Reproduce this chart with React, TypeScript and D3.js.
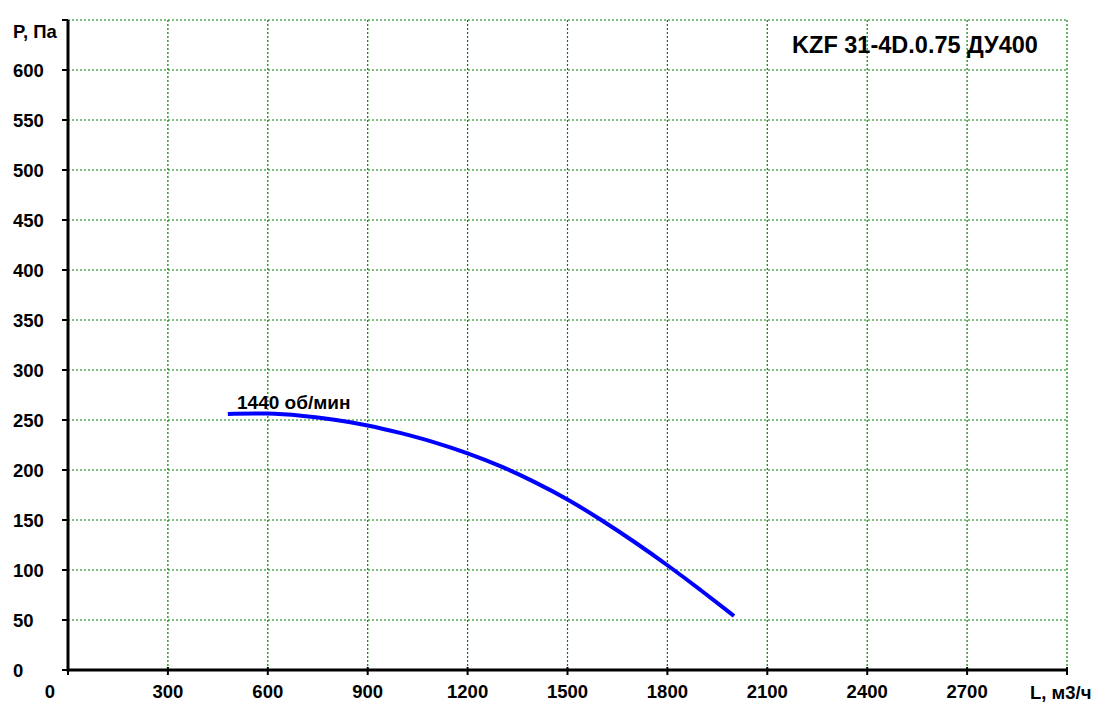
import React from "react";
import * as d3 from "d3";

const flowL = [480, 600, 700, 800, 900, 1000, 1100, 1200, 1300, 1400, 1500, 1600, 1700, 1800, 1900, 2000];
const pressureP = [256, 257, 254.5, 250.5, 245, 237, 228, 217, 204, 188.5, 171, 150.5, 128.5, 105, 80, 54];
const xTicks = [0, 300, 600, 900, 1200, 1500, 1800, 2100, 2400, 2700, 3000];
const yTicks = [0, 50, 100, 150, 200, 250, 300, 350, 400, 450, 500, 550, 600, 650];
const title = "KZF 31-4D.0.75 ДУ400";
const curveLabel = "1440 об/мин";
const xTitle = "L, м3/ч";
const yTitle = "P, Па";

export default function App() {
  const W = 1100, H = 717;
  const x = d3.scaleLinear().domain([0, 3000]).range([68, 1067]);
  const y = d3.scaleLinear().domain([0, 650]).range([670, 20]);
  const pts: [number, number][] = flowL.map((l, i) => [l, pressureP[i]]);
  const line = d3
    .line<[number, number]>()
    .x((d) => x(d[0]))
    .y((d) => y(d[1]))
    .curve(d3.curveBasis);
  const font = "'Liberation Sans', Arial, sans-serif";
  const fs = 18.5;
  return (
    <svg width={W} height={H} style={{ position: "absolute", left: 0, top: 0, background: "#fff" }} fontFamily={font}>
      <rect x={0} y={0} width={W} height={H} fill="#fff" />
      {xTicks.filter((t) => t > 0).map((t) => (
        <line key={"gx" + t} x1={x(t)} x2={x(t)} y1={y(0)} y2={y(650)} stroke="#008000" strokeWidth={1.2} strokeDasharray="2,2" />
      ))}
      {yTicks.filter((t) => t > 0).map((t) => (
        <line key={"gy" + t} x1={x(0)} x2={x(3000)} y1={y(t)} y2={y(t)} stroke="#008000" strokeWidth={1.2} strokeDasharray="2,2" />
      ))}
      <line x1={x(0)} x2={x(3000)} y1={y(0)} y2={y(0)} stroke="#000" strokeWidth={3} />
      <line x1={x(0)} x2={x(0)} y1={y(0) + 1.5} y2={y(650)} stroke="#000" strokeWidth={3} />
      {yTicks.map((t) => (
        <line key={"ty" + t} x1={x(0) - 6} x2={x(0)} y1={y(t)} y2={y(t)} stroke="#000" strokeWidth={2} />
      ))}
      {xTicks.map((t) => (
        <line key={"tx" + t} x1={x(t)} x2={x(t)} y1={y(0) - 3} y2={y(0) + 5} stroke="#000" strokeWidth={2} />
      ))}
      {yTicks.filter((t) => t < 650).map((t) => (
        <text key={"ly" + t} x={13} y={y(t)} dy="0.36em" fontSize={fs} fontWeight="bold" fill="#000">
          {t}
        </text>
      ))}
      <text x={13} y={y(650) + 11} dy="0.36em" fontSize={fs} fontWeight="bold">{yTitle}</text>
      {xTicks.filter((t) => t < 3000).map((t) => (
        <text key={"lx" + t} x={t === 0 ? 50 : x(t)} y={691} dy="0.36em" textAnchor="middle" fontSize={fs} fontWeight="bold">
          {t}
        </text>
      ))}
      <text x={1030} y={692} dy="0.36em" fontSize={fs} fontWeight="bold">{xTitle}</text>
      <path d={line(pts) || ""} fill="none" stroke="#0000ff" strokeWidth={4} />
      <text x={237} y={402} dy="0.36em" fontSize={19} fontWeight="bold">{curveLabel}</text>
      <text x={915} y={45} dy="0.36em" textAnchor="middle" fontSize={23.5} fontWeight="bold">{title}</text>
    </svg>
  );
}
